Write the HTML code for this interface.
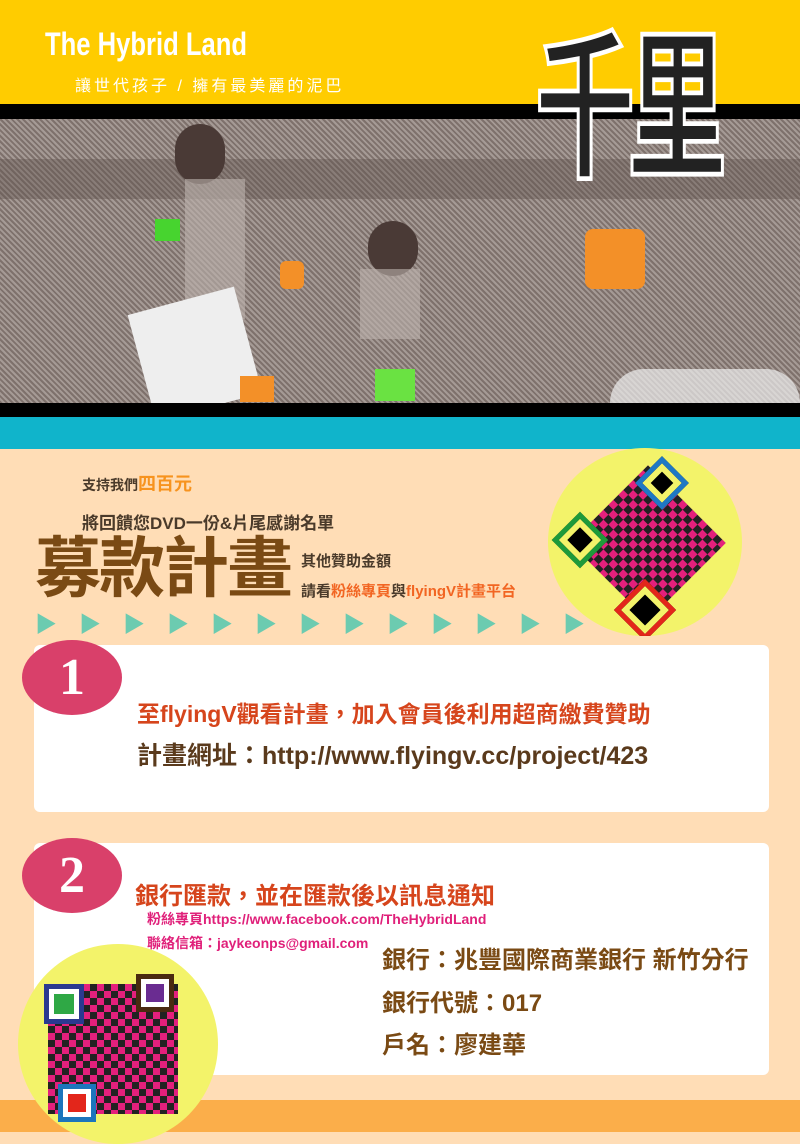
<!DOCTYPE html>
<html><head><meta charset="utf-8">
<style>
body{margin:0;width:800px;height:1132px;overflow:hidden;position:relative;background:#FFDDB6;font-family:"Liberation Sans","Noto Sans CJK TC",sans-serif}
div,span,svg{position:absolute}
.cj{font-family:"Liberation Sans","Noto Sans CJK TC",sans-serif;font-weight:bold;white-space:nowrap}
</style></head><body>
<div style="left:0;top:0;width:800px;height:104px;background:#FFCC00"></div>
<div style="left:45px;top:26px;color:#fff;font:bold 32px 'Liberation Sans Narrow','Liberation Sans',sans-serif;transform:scaleX(0.8);transform-origin:left;white-space:nowrap">The Hybrid Land</div>
<div style="left:75px;top:72px;color:#fff;font-size:16px;letter-spacing:3px;white-space:nowrap;font-family:'Liberation Sans','Noto Sans CJK TC',sans-serif">讓世代孩子 / 擁有最美麗的泥巴</div>
<div style="left:0;top:104px;width:800px;height:15px;background:#000"></div>
<div style="left:0;top:119px;width:800px;height:284px;background:repeating-linear-gradient(45deg,#7e716c 0 2px,#a59a95 2px 4px)">
 <div style="left:0;top:40px;width:800px;height:40px;background:#5f524e;opacity:.4"></div>
 <div style="left:175px;top:5px;width:50px;height:60px;border-radius:25px;background:#4a3a36"></div>
 <div style="left:185px;top:60px;width:60px;height:140px;background:#bdb3ae;opacity:.6"></div>
 <div style="left:368px;top:102px;width:50px;height:55px;border-radius:25px;background:#4a3a36"></div>
 <div style="left:360px;top:150px;width:60px;height:70px;background:#bdb3ae;opacity:.6"></div>
 <div style="left:140px;top:180px;width:110px;height:110px;background:#eee;transform:rotate(-15deg)"></div>
 <div style="left:585px;top:110px;width:60px;height:60px;background:#F39028;border-radius:8px"></div>
 <div style="left:155px;top:100px;width:25px;height:22px;background:#47D42F"></div>
 <div style="left:280px;top:142px;width:24px;height:28px;background:#F39028;border-radius:6px"></div>
 <div style="left:375px;top:250px;width:40px;height:32px;background:#6AE242"></div>
 <div style="left:240px;top:257px;width:34px;height:26px;background:#F39028"></div>
 <div style="left:610px;top:250px;width:190px;height:34px;background:#eee;border-radius:60px 60px 0 0;opacity:.7"></div>
</div>
<div class="cj" style="left:535px;top:30px;font-size:100px;line-height:1;color:#222;-webkit-text-stroke:3px #fff;letter-spacing:-8px;transform:scaleY(1.6);transform-origin:top left">千里</div>
<div style="left:0;top:403px;width:800px;height:14px;background:#000"></div>
<div style="left:0;top:417px;width:800px;height:32px;background:#10B4CB"></div>

<div class="cj" style="left:82px;top:470px;font-size:14px;color:#4a3a2a">支持我們<span style="position:static;color:#F7931E;font-size:18px">四百元</span></div>
<div class="cj" style="left:82px;top:509px;font-size:17px;color:#4a3a2a">將回饋您DVD一份&amp;片尾感謝名單</div>
<div class="cj" style="left:35px;top:532px;font-size:66px;line-height:72px;color:#7A4A14;letter-spacing:-2px">募款計畫</div>
<div class="cj" style="left:301px;top:550px;font-size:15px;color:#4a3a2a">其他贊助金額</div>
<div class="cj" style="left:301px;top:580px;font-size:15px;color:#4a3a2a">請看<span style="position:static;color:#F26522">粉絲專頁</span>與<span style="position:static;color:#F26522">flyingV計畫平台</span></div>
<div style="left:35px;top:607px;font-size:22px;color:#6CCBB0;letter-spacing:22px;white-space:nowrap">▶▶▶▶▶▶▶▶▶▶▶▶▶</div>

<div style="left:548px;top:448px;width:194px;height:188px;border-radius:50%;background:#F3F36A;overflow:hidden">
 <div style="left:45px;top:40px;width:110px;height:110px;transform:rotate(45deg);background:repeating-conic-gradient(#E4207C 0 25%,#222 0 50%) 0 0/14px 14px"></div>
 <div style="left:75px;top:140px;width:34px;height:34px;transform:rotate(45deg);border:5px solid #E3261B;background:#000;box-shadow:inset 0 0 0 6px #F3F36A"></div>
 <div style="left:12px;top:72px;width:30px;height:30px;transform:rotate(45deg);border:5px solid #1E9A3A;box-shadow:inset 0 0 0 6px #F3F36A;background:#000"></div>
 <div style="left:95px;top:16px;width:28px;height:28px;transform:rotate(45deg);border:5px solid #1F78C4;box-shadow:inset 0 0 0 6px #F3F36A;background:#000"></div>
</div>

<div style="left:34px;top:645px;width:735px;height:167px;background:#fff;border-radius:6px"></div>
<div style="left:22px;top:640px;width:100px;height:75px;border-radius:50%;background:#D9406A;color:#fff;font:bold 52px 'Liberation Serif',serif;text-align:center;line-height:75px">1</div>
<div class="cj" style="left:137px;top:695px;font-size:23px;color:#D6451C">至flyingV觀看計畫，加入會員後利用超商繳費贊助</div>
<div class="cj" style="left:137px;top:736px;font-size:25px;color:#5a3a1c">計畫網址：http://www.flyingv.cc/project/423</div>

<div style="left:34px;top:843px;width:735px;height:232px;background:#fff;border-radius:6px"></div>
<div style="left:22px;top:838px;width:100px;height:75px;border-radius:50%;background:#D9406A;color:#fff;font:bold 52px 'Liberation Serif',serif;text-align:center;line-height:75px">2</div>
<div class="cj" style="left:135px;top:876px;font-size:24px;color:#D6451C">銀行匯款，並在匯款後以訊息通知</div>
<div class="cj" style="left:147px;top:909px;font-size:14px;color:#E0207A">粉絲專頁https://www.facebook.com/TheHybridLand</div>
<div class="cj" style="left:147px;top:933px;font-size:14px;color:#E0207A">聯絡信箱：jaykeonps@gmail.com</div>
<div class="cj" style="left:382px;top:940px;font-size:24px;color:#7A4A14">銀行：兆豐國際商業銀行 新竹分行</div>
<div class="cj" style="left:382px;top:983px;font-size:24px;color:#7A4A14">銀行代號：017</div>
<div class="cj" style="left:382px;top:1025px;font-size:24px;color:#7A4A14">戶名：廖建華</div>

<div style="left:0;top:1100px;width:800px;height:32px;background:#FBAE4A"></div>
<div style="left:18px;top:944px;width:200px;height:200px;border-radius:50%;background:#F3F36A;overflow:hidden">
 <div style="left:30px;top:40px;width:130px;height:130px;background:repeating-conic-gradient(#E4207C 0 25%,#222 0 50%) 0 0/14px 14px"></div>
 <div style="left:26px;top:40px;width:30px;height:30px;border:5px solid #2B3990;background:#2FA845;box-shadow:inset 0 0 0 5px #fff"></div>
 <div style="left:118px;top:30px;width:28px;height:28px;border:5px solid #4a2a10;background:#6A2C91;box-shadow:inset 0 0 0 5px #fff"></div>
 <div style="left:40px;top:140px;width:28px;height:28px;border:5px solid #1C75BC;background:#E3261B;box-shadow:inset 0 0 0 5px #fff"></div>
</div>
</body></html>
